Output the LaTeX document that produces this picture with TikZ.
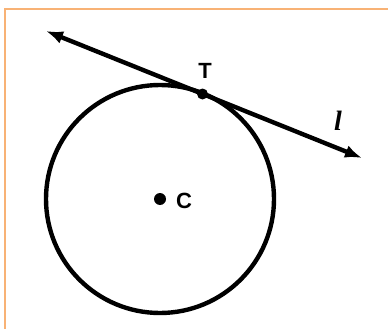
\documentclass[tikz,border=0pt]{standalone}
\usepackage{fontspec}
\setmainfont{Liberation Sans}
\newfontfamily\serifit{Liberation Serif}
\usetikzlibrary{arrows.meta}
\definecolor{frame}{HTML}{F8B275}
\begin{document}
\begin{tikzpicture}[x=1pt,y=-1pt,
  thickline/.style={line width=4.4pt},
  dotnode/.style={circle,fill=black,inner sep=0pt,minimum size=12pt},
  lbl/.style={font=\fontsize{22}{22}\selectfont\bfseries,inner sep=0pt}]
\useasboundingbox (0,0) rectangle (388,329);
\draw[frame,line width=2pt] (5,329) -- (5,9) -- (388,9);
\coordinate (Cc) at (160,199);
\draw[thickline] (Cc) circle[radius=114];
\node[dotnode] (C) at (Cc) {};
\node[dotnode,minimum size=11pt] (T) at (202.5,94) {};
\coordinate (A) at (46,31);
\coordinate (B) at (362,158);
\draw[thickline,{Latex[length=17pt,width=13pt]}-{Latex[length=17pt,width=13pt]}] (A) -- (B);
\node[lbl] (Tl) at (205,71) {T};
\node[lbl] (Cl) at (184,201) {C};
\node[inner sep=0pt,font=\serifit\itshape\bfseries\fontsize{28}{28}\selectfont] (l) at (338,121) {l};
\end{tikzpicture}
\end{document}
